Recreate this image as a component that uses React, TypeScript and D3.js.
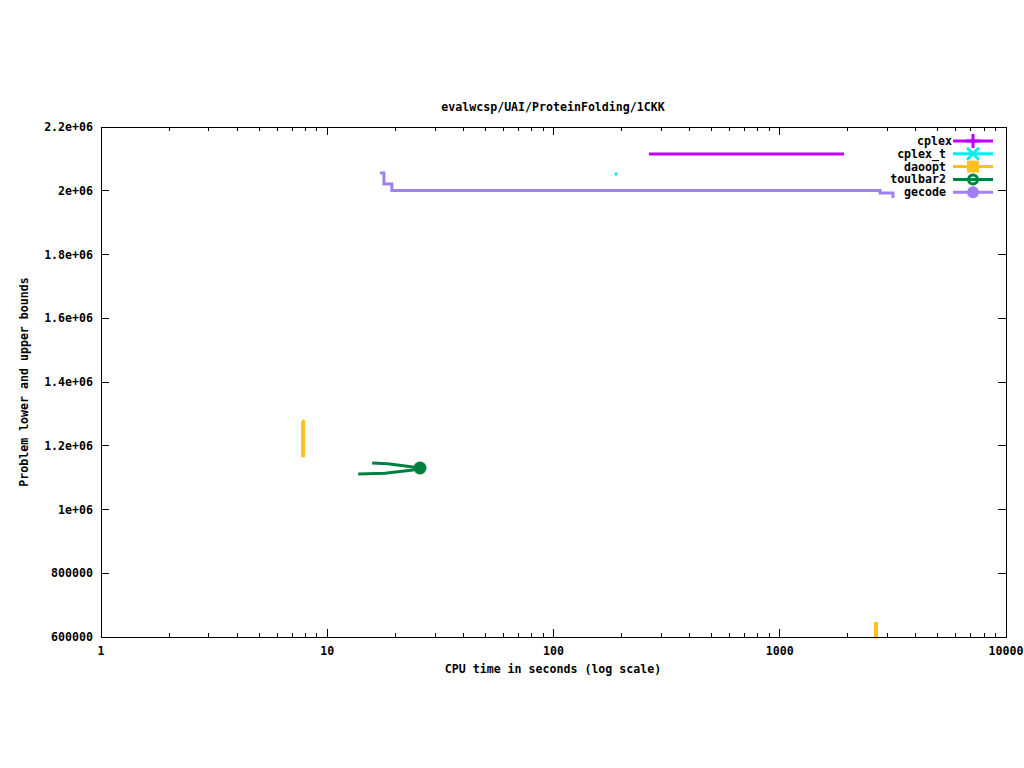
import * as d3 from 'd3';

// series (time in seconds, bound value)
const cplexTimes = [264, 1923];
const cplexValues = [2115000, 2115000];

const cplexTTimes = [189];
const cplexTValues = [2052500];

const daooptTimesA = [7.72, 7.82, 7.82];
const daooptValuesA = [1275000, 1275000, 1164000];
const daooptTimesB = [2663, 2663];
const daooptValuesB = [647000, 595000];

const toulbarUpperTimes = [15.8, 18.5, 23.9, 25.7];
const toulbarUpperValues = [1145900, 1143500, 1133300, 1130200];
const toulbarLowerTimes = [13.7, 18.0, 23.9, 25.7];
const toulbarLowerValues = [1111400, 1113500, 1123900, 1130200];

const gecodeTimes = [17.1, 17.8, 19.3, 2775, 3165];
const gecodeValues = [2055700, 2021200, 2000800, 1992900, 1977300];

const xTicks = [1, 10, 100, 1000, 10000];
const yTicks = [600000, 800000, 1000000, 1200000, 1400000, 1600000, 1800000, 2000000, 2200000];
const yTickLabels = ['600000', '800000', '1e+06', '1.2e+06', '1.4e+06', '1.6e+06', '1.8e+06', '2e+06', '2.2e+06'];

const legendNames = ['cplex', 'cplex_t', 'daoopt', 'toulbar2', 'gecode'];
const colors: Record<string, string> = {
  cplex: '#c000ff',
  cplex_t: '#00f0f0',
  daoopt: '#ffc020',
  toulbar2: '#008040',
  gecode: '#a080f0',
};

const W = 1024;
const H = 768;
const left = 101;
const right = 1006;
const top = 127;
const bottom = 637;
const font = '"DejaVu Sans Mono", monospace';
const fontSize = 11.6;

const zip = (xs: number[], ys: number[]) => xs.map((x, i) => [x, ys[i]] as [number, number]);

export default function App() {
  const x = d3.scaleLog().domain([1, 10000]).range([left, right]);
  const y = d3.scaleLinear().domain([600000, 2200000]).range([bottom, top]);

  const line = d3
    .line<[number, number]>()
    .x((d) => x(d[0]))
    .y((d) => y(d[1]));
  const stepLine = d3
    .line<[number, number]>()
    .x((d) => x(d[0]))
    .y((d) => y(d[1]))
    .curve(d3.curveStepAfter);

  const minorTicks: number[] = [];
  for (let e = 0; e < 4; e++) {
    for (let k = 2; k <= 9; k++) minorTicks.push(k * Math.pow(10, e));
  }

  const tbEnd = [toulbarUpperTimes[3], toulbarUpperValues[3]];

  const legendY = (i: number) => 141 + i * 12.8;

  const marker = (name: string, cx: number, cy: number) => {
    const c = colors[name];
    if (name === 'cplex')
      return <path d={`M${cx - 7},${cy}H${cx + 7}M${cx},${cy - 7}V${cy + 7}`} stroke={c} strokeWidth={3} />;
    if (name === 'cplex_t')
      return <path d={`M${cx - 6},${cy - 6}L${cx + 6},${cy + 6}M${cx - 6},${cy + 6}L${cx + 6},${cy - 6}`} stroke={c} strokeWidth={3} />;
    if (name === 'daoopt') return <rect x={cx - 6} y={cy - 6} width={12} height={12} fill={c} />;
    if (name === 'toulbar2') return <circle cx={cx} cy={cy} r={4.5} fill="none" stroke={c} strokeWidth={3} />;
    return <circle cx={cx} cy={cy} r={6} fill={c} />;
  };

  return (
    <div style={{ position: 'absolute', left: 0, top: 0 }}>
      <svg width={W} height={H} style={{ display: 'block', background: '#fff' }}>
        <defs>
          <clipPath id="plot">
            <rect x={left} y={top} width={right - left} height={bottom - top + 2} />
          </clipPath>
        </defs>

        {/* ticks */}
        <g stroke="#000" strokeWidth={1} shapeRendering="crispEdges">
          {xTicks.map((t) => (
            <g key={'x' + t}>
              <line x1={x(t)} x2={x(t)} y1={bottom} y2={bottom - 8} />
              <line x1={x(t)} x2={x(t)} y1={top} y2={top + 8} />
            </g>
          ))}
          {minorTicks.map((t) => (
            <g key={'m' + t}>
              <line x1={x(t)} x2={x(t)} y1={bottom} y2={bottom - 4} />
              <line x1={x(t)} x2={x(t)} y1={top} y2={top + 4} />
            </g>
          ))}
          {yTicks.map((t) => (
            <g key={'y' + t}>
              <line x1={left} x2={left + 8} y1={y(t)} y2={y(t)} />
              <line x1={right} x2={right - 8} y1={y(t)} y2={y(t)} />
            </g>
          ))}
        </g>

        {/* tick labels */}
        <g fontFamily={font} fontSize={fontSize} fontWeight="bold" fill="#000">
          {xTicks.map((t) => (
            <text key={'xl' + t} x={x(t)} y={655} textAnchor="middle">
              {String(t)}
            </text>
          ))}
          {yTicks.map((t, i) => (
            <text key={'yl' + t} x={93} y={y(t) + 4} textAnchor="end">
              {yTickLabels[i]}
            </text>
          ))}
          <text x={553} y={111} textAnchor="middle">
            evalwcsp/UAI/ProteinFolding/1CKK
          </text>
          <text x={553} y={673} textAnchor="middle">
            CPU time in seconds (log scale)
          </text>
          <text transform="translate(28,382) rotate(-90)" textAnchor="middle">
            Problem lower and upper bounds
          </text>
        </g>

        {/* series */}
        <g clipPath="url(#plot)" fill="none" strokeWidth={3}>
          <path d={line(zip(cplexTimes, cplexValues)) ?? ''} stroke={colors.cplex} />
          {cplexTTimes.map((t, i) => (
            <rect key={'ct' + i} x={x(t) - 1.5} y={y(cplexTValues[i]) - 1.5} width={3} height={3} fill={colors.cplex_t} />
          ))}
          <path d={line(zip(daooptTimesA, daooptValuesA)) ?? ''} stroke={colors.daoopt} strokeWidth={4} />
          <path d={line(zip(daooptTimesB, daooptValuesB)) ?? ''} stroke={colors.daoopt} strokeWidth={4} />
          <path d={line(zip(toulbarUpperTimes, toulbarUpperValues)) ?? ''} stroke={colors.toulbar2} />
          <path d={line(zip(toulbarLowerTimes, toulbarLowerValues)) ?? ''} stroke={colors.toulbar2} />
          <circle cx={x(tbEnd[0])} cy={y(tbEnd[1])} r={6.5} fill={colors.toulbar2} stroke="none" />
          <path d={stepLine(zip(gecodeTimes, gecodeValues)) ?? ''} stroke={colors.gecode} />
        </g>

        {/* legend */}
        <g fontFamily={font} fontSize={fontSize} fontWeight="bold">
          {legendNames.map((name, i) => (
            <g key={name}>
              <text x={name === 'cplex' ? 952 : 946} y={legendY(i) + 4} textAnchor="end" fill="#000">
                {name}
              </text>
              <line x1={953} x2={993} y1={legendY(i)} y2={legendY(i)} stroke={colors[name]} strokeWidth={3} />
              {marker(name, 973, legendY(i))}
            </g>
          ))}
        </g>

        {/* border */}
        <rect
          x={left}
          y={top}
          width={right - left}
          height={bottom - top}
          fill="none"
          stroke="#000"
          strokeWidth={1}
          shapeRendering="crispEdges"
        />
      </svg>
    </div>
  );
}
